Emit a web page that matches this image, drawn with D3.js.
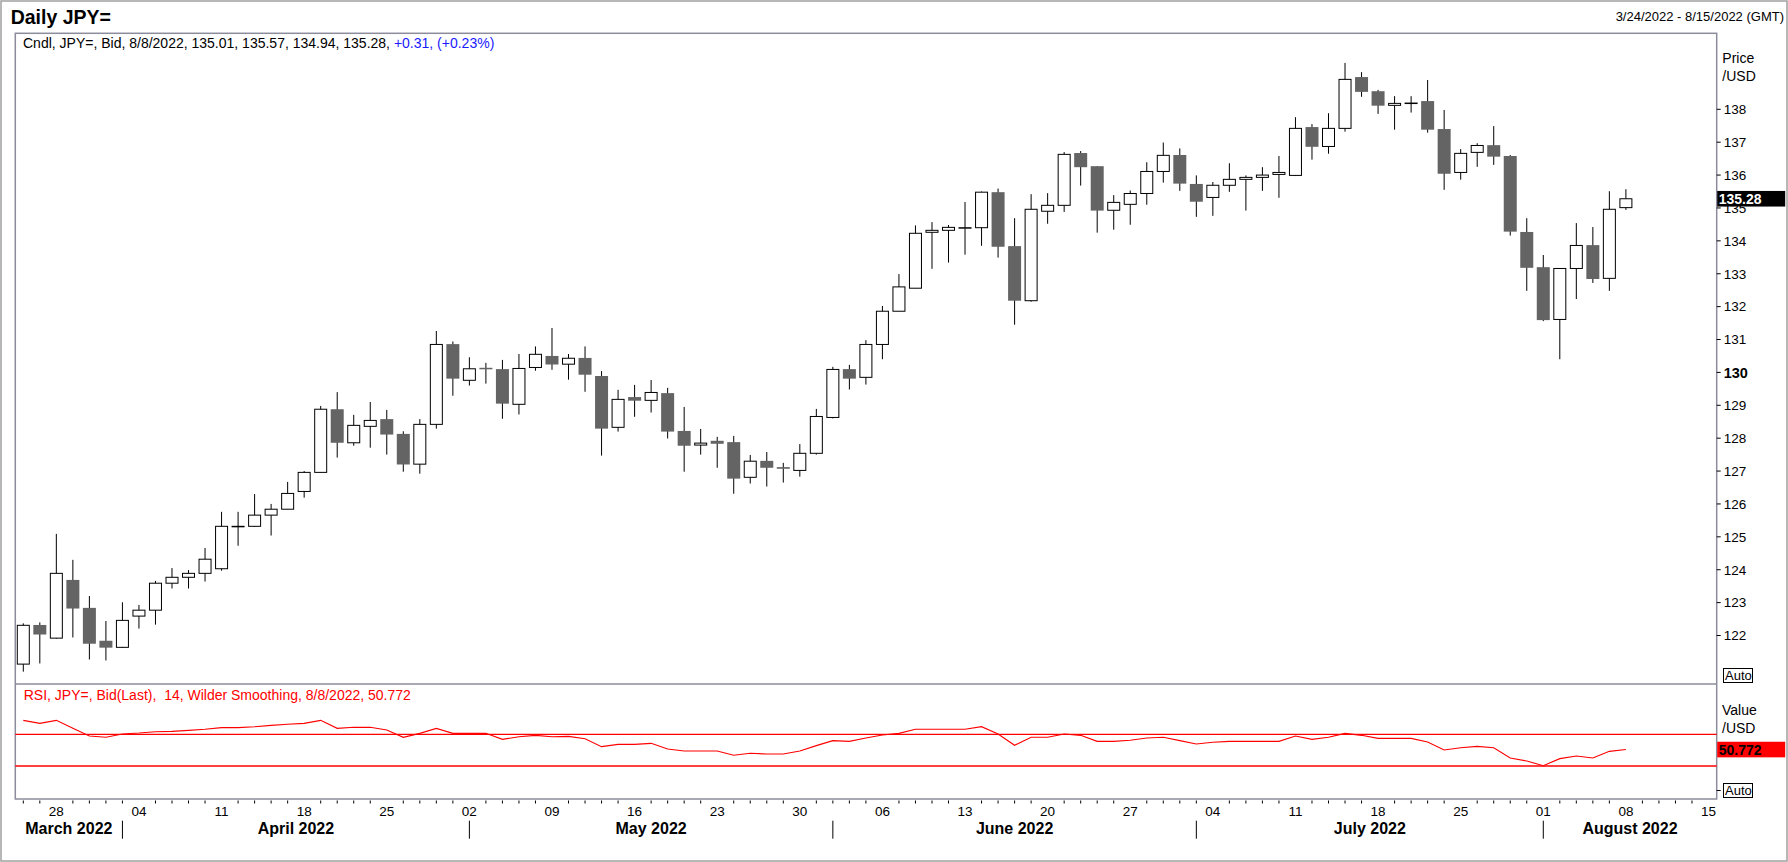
<!DOCTYPE html>
<html>
<head>
<meta charset="utf-8">
<script src="https://cdn.jsdelivr.net/npm/d3@7"></script>
<style>
  html, body { margin: 0; padding: 0; background: #fff; }
  svg { display: block; font-family: "Liberation Sans", Arial, sans-serif; }
</style>
</head>
<body>
<svg id="chart" width="1788" height="862"></svg>
<script>
// ── Data ─────────────────────────────────────────────────────────────
const OPEN = [
  121.13, 122.32, 121.92, 123.69, 122.84, 121.84, 121.64, 122.59, 122.77, 123.59,
  123.77, 123.89, 124.03, 125.32, 125.32, 125.66, 125.84, 126.38, 126.96, 128.88,
  127.86, 128.36, 128.58, 128.13, 127.21, 128.42, 130.86, 129.76, 130.14, 130.10,
  129.03, 130.15, 130.50, 130.25, 130.44, 129.89, 128.33, 129.25, 129.15, 129.37,
  128.22, 127.79, 127.92, 127.88, 126.81, 127.31, 127.12, 127.02, 127.54, 128.63,
  130.10, 129.85, 130.85, 131.86, 132.56, 134.26, 134.32, 134.40, 134.40, 135.48,
  133.84, 132.18, 134.90, 135.08, 136.67, 136.27, 134.93, 135.11, 135.44, 136.11,
  136.61, 135.73, 135.32, 135.69, 135.87, 135.93, 136.02, 135.99, 137.46, 136.87,
  137.42, 138.98, 138.55, 138.12, 138.19, 138.25, 137.40, 136.08, 136.69, 136.91,
  136.58, 134.27, 133.20, 131.61, 133.16, 133.87, 132.86, 135.01
];
const HIGH = [
  122.37, 122.40, 125.09, 124.30, 123.20, 122.44, 123.01, 122.93, 123.66, 124.05,
  123.99, 124.66, 125.76, 125.76, 126.30, 126.00, 126.67, 127.00, 128.98, 129.40,
  128.71, 129.10, 128.86, 128.21, 128.58, 131.26, 130.94, 130.46, 130.29, 130.38,
  130.56, 130.79, 131.35, 130.56, 130.79, 130.04, 129.47, 129.62, 129.77, 129.53,
  128.95, 128.28, 128.04, 128.07, 127.49, 127.58, 127.25, 127.82, 128.89, 130.17,
  130.23, 130.98, 132.02, 132.99, 134.47, 134.57, 134.48, 135.18, 135.50, 135.59,
  134.69, 135.42, 135.45, 136.70, 136.73, 136.27, 135.39, 135.53, 136.39, 136.99,
  136.81, 135.99, 135.79, 136.36, 135.99, 136.24, 136.58, 137.76, 137.55, 137.88,
  139.41, 139.13, 138.59, 138.40, 138.40, 138.89, 137.98, 136.79, 136.97, 137.49,
  136.61, 134.69, 133.57, 133.16, 134.54, 134.42, 135.51, 135.57
];
const LOW = [
  120.90, 121.15, 121.90, 121.94, 121.27, 121.24, 121.62, 122.21, 122.33, 123.43,
  123.43, 123.64, 123.97, 124.73, 125.30, 125.04, 125.84, 126.19, 126.96, 127.41,
  127.77, 127.71, 127.50, 126.98, 126.92, 128.29, 129.29, 129.60, 129.66, 128.59,
  128.72, 130.05, 130.08, 129.78, 129.41, 127.47, 128.20, 128.65, 128.78, 127.99,
  126.98, 127.50, 127.10, 126.31, 126.62, 126.53, 126.65, 126.83, 127.50, 128.60,
  129.48, 129.63, 130.40, 131.86, 132.56, 133.15, 133.34, 133.58, 133.85, 133.49,
  131.45, 132.15, 134.52, 134.88, 135.68, 134.25, 134.34, 134.49, 135.10, 135.77,
  135.52, 134.73, 134.76, 135.49, 134.92, 135.52, 135.31, 135.97, 136.47, 136.65,
  137.32, 138.38, 137.86, 137.38, 137.90, 137.29, 135.55, 135.86, 136.25, 136.31,
  134.16, 132.48, 131.56, 130.40, 132.23, 132.72, 132.48, 134.94
];
const CLOSE = [
  122.31, 122.03, 123.89, 122.82, 121.75, 121.63, 122.46, 122.77, 123.59, 123.77,
  123.89, 124.32, 125.32, 125.32, 125.66, 125.84, 126.32, 126.96, 128.88, 127.86,
  128.39, 128.54, 128.11, 127.20, 128.42, 130.85, 129.81, 130.11, 130.10, 129.05,
  130.12, 130.55, 130.24, 130.43, 129.93, 128.29, 129.18, 129.14, 129.39, 128.20,
  127.77, 127.85, 127.83, 126.77, 127.30, 127.10, 127.07, 127.54, 128.66, 130.09,
  129.81, 130.85, 131.86, 132.60, 134.23, 134.32, 134.41, 134.40, 135.48, 133.82,
  132.18, 134.96, 135.08, 136.63, 136.24, 134.92, 135.17, 135.44, 136.11, 136.60,
  135.74, 135.19, 135.69, 135.87, 135.93, 136.00, 136.08, 137.42, 136.86, 137.42,
  138.91, 138.53, 138.11, 138.18, 138.19, 137.38, 136.04, 136.66, 136.90, 136.56,
  134.28, 133.18, 131.59, 133.16, 133.86, 132.84, 134.96, 135.28
];
const RSI = [
  87.6, 83.8, 87.6, 77.5, 67.9, 66.2, 70.4, 71.6, 73.3, 73.7,
  75.0, 76.3, 78.4, 78.4, 79.6, 81.3, 82.6, 83.8, 87.6, 77.5,
  78.8, 78.8, 75.4, 66.2, 71.2, 77.5, 71.2, 71.2, 71.2, 63.6,
  67.0, 68.7, 67.0, 67.4, 64.5, 54.4, 57.3, 57.3, 58.6, 51.4,
  48.9, 48.9, 48.9, 43.5, 46.0, 45.1, 45.1, 48.9, 55.7, 62.0,
  61.1, 65.3, 69.1, 71.2, 76.3, 76.3, 76.3, 76.3, 79.6, 70.4,
  56.1, 66.2, 66.2, 70.4, 68.7, 61.1, 61.1, 62.4, 65.3, 66.2,
  62.0, 57.8, 59.9, 61.1, 61.1, 61.1, 61.1, 67.9, 63.6, 66.2,
  71.2, 68.7, 64.9, 64.9, 64.9, 60.3, 50.2, 53.1, 54.8, 53.1,
  40.1, 36.3, 30.4, 39.3, 42.6, 40.1, 48.5, 50.772
];
const PRICE_TICKS = [122, 123, 124, 125, 126, 127, 128, 129, 130, 131, 132, 133, 134, 135, 136, 137, 138];
const RSI_LEVELS = [30, 70];
const WEEK_LABELS = ['2022-03-28', '2022-04-04', '2022-04-11', '2022-04-18', '2022-04-25',
  '2022-05-02', '2022-05-09', '2022-05-16', '2022-05-23', '2022-05-30', '2022-06-06',
  '2022-06-13', '2022-06-20', '2022-06-27', '2022-07-04', '2022-07-11', '2022-07-18',
  '2022-07-25', '2022-08-01', '2022-08-08', '2022-08-15'];

// ── Layout ───────────────────────────────────────────────────────────
const W = 1788, H = 862;
const plot = { left: 15.3, right: 1716.7, top: 33.3, split: 684, bottom: 799 };
const FONT = '"Liberation Sans", Arial, sans-serif';
const FRAME = '#8c8c9c';
const DOWN = '#646464';

const parseDay = d3.utcParse('%Y-%m-%d');
const days = d3.utcDay.range(parseDay('2022-03-24'), parseDay('2022-08-16'))
  .filter(d => d.getUTCDay() !== 0 && d.getUTCDay() !== 6);
const dayKey = d3.utcFormat('%Y-%m-%d');

const x = d3.scalePoint().domain(days.map(dayKey)).range([23.3, 1708.5]);
const y = d3.scaleLinear().domain([122, 138]).range([635.5, 109.3]);
const yRsi = d3.scaleLinear().domain([30, 70]).range([766, 734.3]);

const candles = OPEN.map((o, i) => ({
  key: dayKey(days[i]), open: o, high: HIGH[i], low: LOW[i], close: CLOSE[i]
}));

const svg = d3.select('#chart');

// ── Frames ───────────────────────────────────────────────────────────
svg.append('rect')
  .attr('x', 1).attr('y', 1).attr('width', W - 2).attr('height', H - 2)
  .attr('fill', 'none').attr('stroke', '#a0a0a0').attr('stroke-width', 1.5);

svg.append('rect')
  .attr('x', plot.left).attr('y', plot.top)
  .attr('width', plot.right - plot.left).attr('height', plot.bottom - plot.top)
  .attr('fill', '#fff').attr('stroke', FRAME).attr('stroke-width', 1.5);

svg.append('line')
  .attr('x1', plot.left).attr('x2', plot.right)
  .attr('y1', plot.split).attr('y2', plot.split)
  .attr('stroke', FRAME).attr('stroke-width', 1.5);

// ── Titles ───────────────────────────────────────────────────────────
svg.append('text')
  .attr('x', 10.7).attr('y', 24)
  .attr('font-size', 19.5).attr('font-weight', 'bold').attr('fill', '#000')
  .text('Daily JPY=');

svg.append('text')
  .attr('x', 1784).attr('y', 21).attr('text-anchor', 'end')
  .attr('font-size', 13).attr('fill', '#000')
  .text('3/24/2022 - 8/15/2022 (GMT)');

const legend = svg.append('text')
  .attr('x', 23).attr('y', 48.3).attr('font-size', 14);
legend.append('tspan').attr('fill', '#000')
  .text('Cndl, JPY=, Bid, 8/8/2022, 135.01, 135.57, 134.94, 135.28, ');
legend.append('tspan').attr('fill', '#1a1aff').text('+0.31, (+0.23%)');

svg.append('text')
  .attr('x', 23.7).attr('y', 700)
  .attr('font-size', 14).attr('fill', '#ff0000')
  .attr('xml:space', 'preserve')
  .text('RSI, JPY=, Bid(Last),  14, Wilder Smoothing, 8/8/2022, 50.772');

// ── Price axis ───────────────────────────────────────────────────────
const priceAxis = svg.append('g');
priceAxis.selectAll('line')
  .data(PRICE_TICKS)
  .join('line')
  .attr('x1', plot.right).attr('x2', plot.right + 4)
  .attr('y1', d => y(d)).attr('y2', d => y(d))
  .attr('stroke', '#000');
priceAxis.selectAll('text')
  .data(PRICE_TICKS)
  .join('text')
  .attr('x', plot.right + 7).attr('y', d => y(d)).attr('dy', '0.36em')
  .attr('font-size', d => d === 130 ? 14.5 : 13.5)
  .attr('font-weight', d => d === 130 ? 'bold' : 'normal')
  .text(d => d);

svg.append('text').attr('x', 1722.3).attr('y', 63.3).attr('font-size', 14).text('Price');
svg.append('text').attr('x', 1722.3).attr('y', 80.7).attr('font-size', 14).text('/USD');
svg.append('text').attr('x', 1722).attr('y', 715).attr('font-size', 14).text('Value');
svg.append('text').attr('x', 1722).attr('y', 733).attr('font-size', 14).text('/USD');

function autoBox(top) {
  svg.append('rect')
    .attr('x', 1723.5).attr('y', top).attr('width', 29).attr('height', 14)
    .attr('fill', '#fff').attr('stroke', '#000');
  svg.append('text')
    .attr('x', 1725).attr('y', top + 11.5).attr('font-size', 13).text('Auto');
}
autoBox(668.5);
svg.append('line')
  .attr('x1', plot.right).attr('x2', plot.right + 4)
  .attr('y1', 790.5).attr('y2', 790.5).attr('stroke', '#000');
autoBox(783.5);

// ── Candles ──────────────────────────────────────────────────────────
const candleG = svg.append('g');
const upBody = 12, downBody = 13;

candleG.selectAll('line.wick')
  .data(candles)
  .join('line')
  .attr('class', 'wick')
  .attr('x1', d => x(d.key)).attr('x2', d => x(d.key))
  .attr('y1', d => y(d.high)).attr('y2', d => y(d.low))
  .attr('stroke', '#000').attr('stroke-width', 1);

candleG.selectAll('rect.body')
  .data(candles)
  .join('rect')
  .attr('class', 'body')
  .attr('x', d => x(d.key) - (d.close >= d.open ? upBody : downBody) / 2)
  .attr('width', d => d.close >= d.open ? upBody : downBody)
  .attr('y', d => y(Math.max(d.open, d.close)))
  .attr('height', d => Math.max(d.close >= d.open ? 0.5 : 1.5,
    Math.abs(y(d.open) - y(d.close))))
  .attr('fill', d => d.close >= d.open ? '#fff' : DOWN)
  .attr('stroke', d => d.close >= d.open ? '#000' : 'none')
  .attr('stroke-width', 1);

// ── Last value tags ──────────────────────────────────────────────────
function valueTag(yPos, fill, color, label) {
  svg.append('rect')
    .attr('x', plot.right + 0.5).attr('y', yPos - 7.8)
    .attr('width', 68).attr('height', 15.6).attr('fill', fill);
  svg.append('text')
    .attr('x', plot.right + 2).attr('y', yPos).attr('dy', '0.36em')
    .attr('font-size', 14).attr('font-weight', 'bold').attr('fill', color)
    .text(label);
}
valueTag(y(135.28), '#000', '#fff', '135.28');
valueTag(yRsi(50.772), '#ff0000', '#000', '50.772');

// ── RSI ──────────────────────────────────────────────────────────────
svg.append('g').selectAll('line')
  .data(RSI_LEVELS)
  .join('line')
  .attr('x1', plot.left).attr('x2', plot.right)
  .attr('y1', d => yRsi(d)).attr('y2', d => yRsi(d))
  .attr('stroke', '#ff0000').attr('stroke-width', 1.3);

const rsiLine = d3.line()
  .x((d, i) => x(dayKey(days[i])))
  .y(d => yRsi(d));

svg.append('path')
  .datum(RSI)
  .attr('d', rsiLine)
  .attr('fill', 'none').attr('stroke', '#ff0000').attr('stroke-width', 1.1);

// ── Date axis ────────────────────────────────────────────────────────
const labelSet = new Set(WEEK_LABELS);
const axisG = svg.append('g');

axisG.selectAll('line.tick')
  .data(days.map(dayKey).filter(k => !labelSet.has(k)))
  .join('line')
  .attr('class', 'tick')
  .attr('x1', d => x(d)).attr('x2', d => x(d))
  .attr('y1', plot.bottom + 1.5).attr('y2', plot.bottom + 4.5)
  .attr('stroke', '#000');

axisG.selectAll('text.day')
  .data(WEEK_LABELS)
  .join('text')
  .attr('class', 'day')
  .attr('x', d => x(d)).attr('y', 816)
  .attr('text-anchor', 'middle').attr('font-size', 13.5)
  .text(d => d.slice(8));

// month separators sit on the first trading day of each month
const monthStarts = days.filter((d, i) => i > 0 && d.getUTCMonth() !== days[i - 1].getUTCMonth()
  && d <= parseDay('2022-08-08'));
const bounds = [plot.left, ...monthStarts.map(d => x(dayKey(d))), plot.right];
const monthNames = ['March 2022', 'April 2022', 'May 2022', 'June 2022', 'July 2022', 'August 2022'];

axisG.selectAll('line.sep')
  .data(monthStarts)
  .join('line')
  .attr('class', 'sep')
  .attr('x1', d => x(dayKey(d))).attr('x2', d => x(dayKey(d)))
  .attr('y1', 820.7).attr('y2', 838.7)
  .attr('stroke', '#000');

axisG.selectAll('text.month')
  .data(monthNames)
  .join('text')
  .attr('class', 'month')
  .attr('x', (d, i) => (bounds[i] + bounds[i + 1]) / 2).attr('y', 834)
  .attr('text-anchor', 'middle').attr('font-size', 16).attr('font-weight', 'bold')
  .text(d => d);
</script>
</body>
</html>
